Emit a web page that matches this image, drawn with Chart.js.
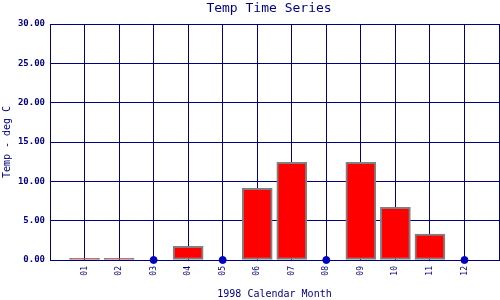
<!DOCTYPE html>
<html>
<head>
<meta charset="utf-8">
<script src="https://cdn.jsdelivr.net/npm/chart.js@4"></script>
<style>
  html, body { margin: 0; padding: 0; background: #fff; }
  #wrap { width: 500px; height: 300px; }
</style>
</head>
<body>
<div id="wrap"><canvas id="chart" width="500" height="300"></canvas></div>
<script>
// data
const months = ['01', '02', '03', '04', '05', '06', '07', '08', '09', '10', '11', '12'];
const temps = [0.2, 0.2, 0, 1.75, 0, 9.1, 12.4, 0, 12.4, 6.7, 3.3, 0];
const yTicks = [0, 5, 10, 15, 20, 25, 30];

const navy = '#000080';
const mono = '"DejaVu Sans Mono", "Liberation Mono", monospace';

// months with a reading go in as bars, empty months as dots on the axis
const barPts = [];
const zeroPts = [];
months.forEach((m, i) => {
    if (temps[i] > 0) barPts.push({ x: i + 1, y: temps[i] });
    else zeroPts.push({ x: i + 1, y: 0 });
});

// main title drawn over the plot centre
const titlePlugin = {
    id: 'topTitle',
    afterDraw(chart) {
        const c = chart.ctx;
        c.save();
        c.fillStyle = navy;
        c.font = '13px ' + mono;
        c.textAlign = 'center';
        c.textBaseline = 'middle';
        c.fillText('Temp Time Series', 269, 9);
        c.restore();
    }
};

new Chart(document.getElementById('chart'), {
    data: {
        datasets: [
            {
                type: 'bar',
                data: barPts,
                backgroundColor: '#ff0000',
                borderColor: '#808080',
                borderWidth: 2,
                borderSkipped: false,
                barThickness: 30,
                order: 2
            },
            {
                type: 'scatter',
                data: zeroPts,
                backgroundColor: '#0000c0',
                borderColor: '#0000c0',
                pointRadius: 3.5,
                order: 1,
                clip: false
            }
        ]
    },
    options: {
        responsive: false,
        animation: false,
        layout: { autoPadding: false, padding: { top: 24, right: 1, left: 0, bottom: 0 } },
        plugins: { legend: { display: false }, tooltip: { enabled: false }, title: { display: false } },
        scales: {
            x: {
                type: 'linear',
                offset: false,
                min: 0,
                max: months.length + 1,
                afterBuildTicks(axis) {
                    axis.ticks = [];
                    for (let i = 0; i <= months.length + 1; i++) axis.ticks.push({ value: i });
                },
                afterFit(axis) {
                    axis.height = 40;
                    axis.paddingLeft = 0;
                    axis.paddingRight = 0;
                },
                grid: { color: navy, lineWidth: 1, drawTicks: false, offset: false },
                border: { color: navy, width: 1 },
                ticks: {
                    color: navy,
                    font: { family: mono, size: 8 },
                    minRotation: 90,
                    maxRotation: 90,
                    padding: 6,
                    autoSkip: false,
                    callback: (v) => months[v - 1] || ''
                },
                title: {
                    display: true,
                    text: '1998 Calendar Month',
                    color: navy,
                    font: { family: mono, size: 10 },
                    padding: { top: 0, bottom: 0 }
                }
            },
            y: {
                min: 0,
                max: 30,
                afterBuildTicks(axis) { axis.ticks = yTicks.map(v => ({ value: v })); },
                afterFit(axis) { axis.width = 50; },
                grid: { color: navy, lineWidth: 1, drawTicks: false },
                border: { color: navy, width: 1 },
                ticks: {
                    color: navy,
                    font: { family: mono, size: 9, weight: 'bold' },
                    padding: 5,
                    callback: (v) => v.toFixed(2)
                },
                title: {
                    display: true,
                    text: 'Temp - deg C',
                    color: navy,
                    font: { family: mono, size: 10 },
                    padding: { top: 1, bottom: 0 }
                }
            }
        }
    },
    plugins: [titlePlugin]
});
</script>
</body>
</html>
